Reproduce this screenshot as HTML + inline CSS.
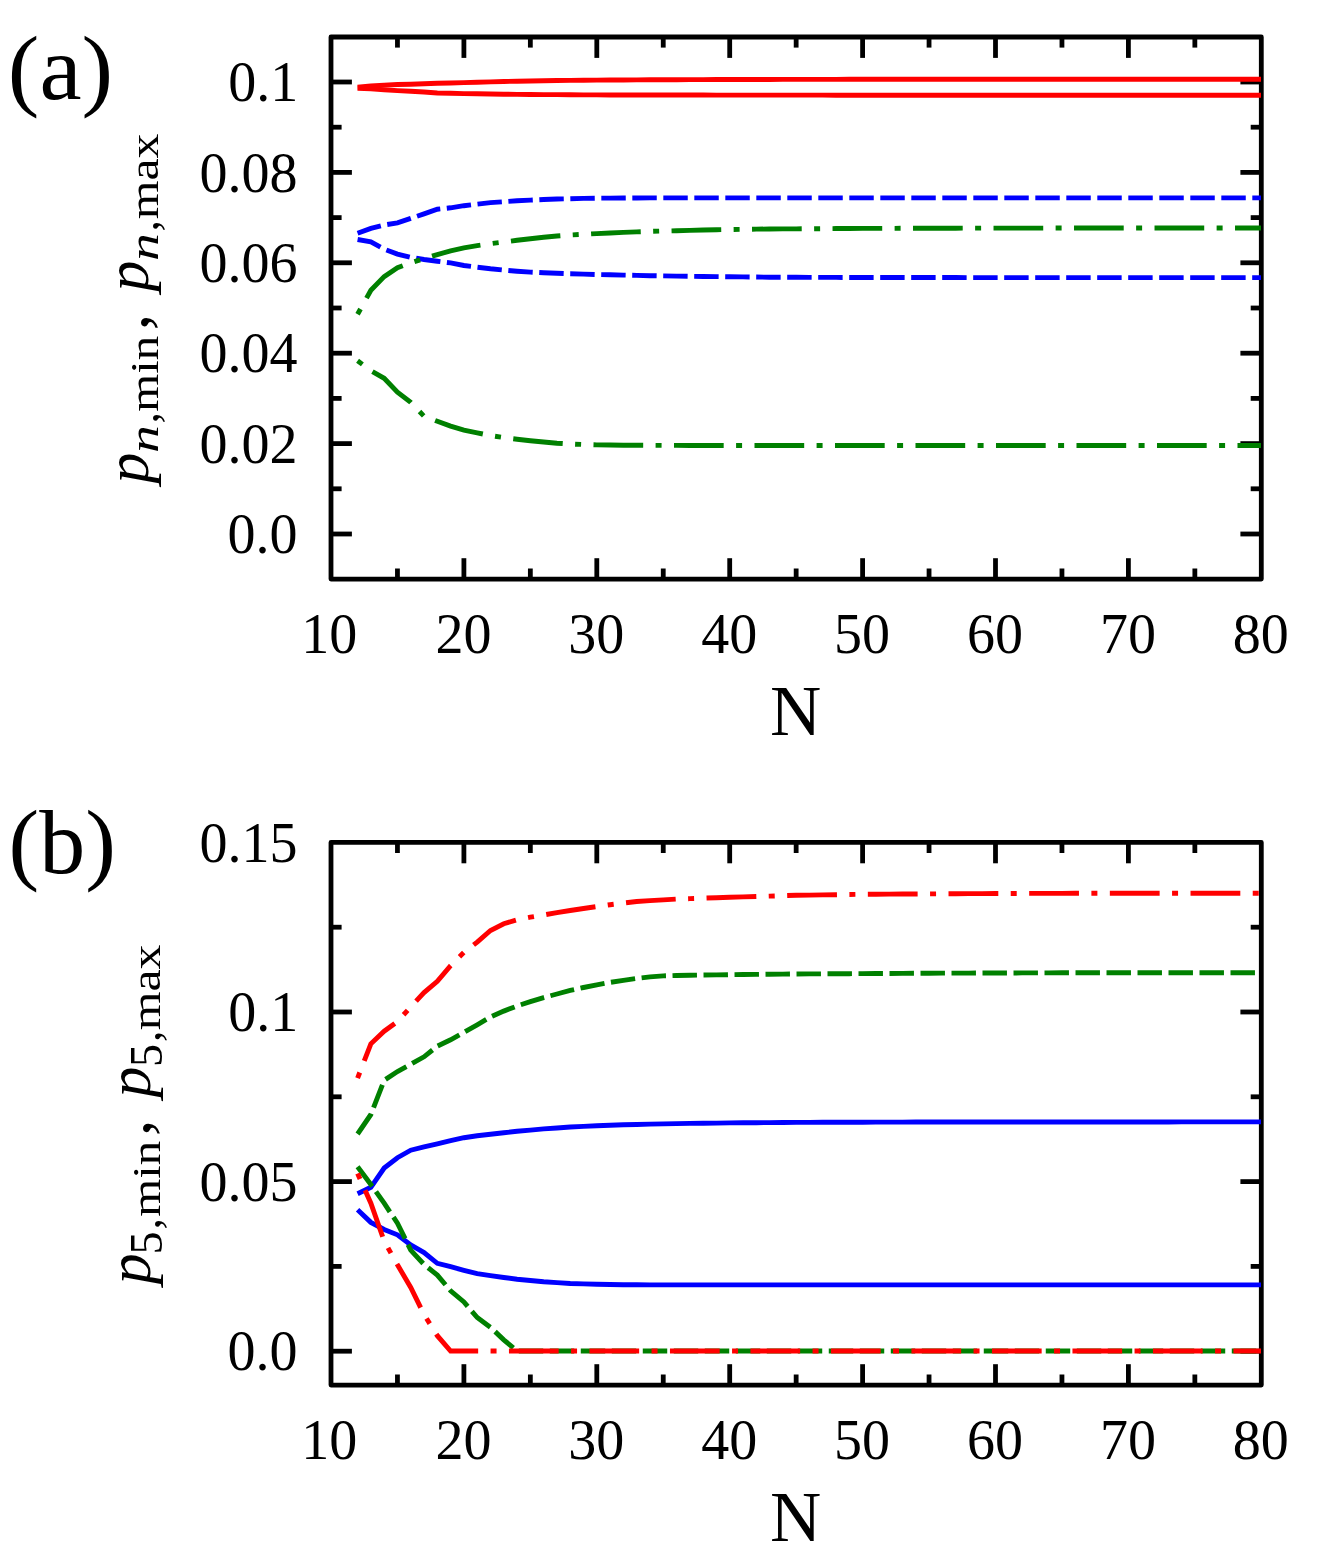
<!DOCTYPE html>
<html><head><meta charset="utf-8"><title>figure</title>
<style>
html,body{margin:0;padding:0;background:#fff;}
body{width:1329px;height:1561px;overflow:hidden;font-family:"Liberation Serif",serif;}
svg{display:block;will-change:transform;}
</style></head><body>
<svg width="1329" height="1561" viewBox="0 0 1329 1561">
<rect width="1329" height="1561" fill="#fff"/>
<g stroke="#000" stroke-width="4.8" fill="none">
<line x1="397.45" y1="37.00" x2="397.45" y2="47.60"/>
<line x1="397.45" y1="579.10" x2="397.45" y2="568.50"/>
<line x1="463.90" y1="37.00" x2="463.90" y2="57.90"/>
<line x1="463.90" y1="579.10" x2="463.90" y2="558.20"/>
<line x1="530.35" y1="37.00" x2="530.35" y2="47.60"/>
<line x1="530.35" y1="579.10" x2="530.35" y2="568.50"/>
<line x1="596.80" y1="37.00" x2="596.80" y2="57.90"/>
<line x1="596.80" y1="579.10" x2="596.80" y2="558.20"/>
<line x1="663.25" y1="37.00" x2="663.25" y2="47.60"/>
<line x1="663.25" y1="579.10" x2="663.25" y2="568.50"/>
<line x1="729.70" y1="37.00" x2="729.70" y2="57.90"/>
<line x1="729.70" y1="579.10" x2="729.70" y2="558.20"/>
<line x1="796.15" y1="37.00" x2="796.15" y2="47.60"/>
<line x1="796.15" y1="579.10" x2="796.15" y2="568.50"/>
<line x1="862.60" y1="37.00" x2="862.60" y2="57.90"/>
<line x1="862.60" y1="579.10" x2="862.60" y2="558.20"/>
<line x1="929.05" y1="37.00" x2="929.05" y2="47.60"/>
<line x1="929.05" y1="579.10" x2="929.05" y2="568.50"/>
<line x1="995.50" y1="37.00" x2="995.50" y2="57.90"/>
<line x1="995.50" y1="579.10" x2="995.50" y2="558.20"/>
<line x1="1061.95" y1="37.00" x2="1061.95" y2="47.60"/>
<line x1="1061.95" y1="579.10" x2="1061.95" y2="568.50"/>
<line x1="1128.40" y1="37.00" x2="1128.40" y2="57.90"/>
<line x1="1128.40" y1="579.10" x2="1128.40" y2="558.20"/>
<line x1="1194.85" y1="37.00" x2="1194.85" y2="47.60"/>
<line x1="1194.85" y1="579.10" x2="1194.85" y2="568.50"/>
<line x1="331.00" y1="534.00" x2="351.90" y2="534.00"/>
<line x1="1261.30" y1="534.00" x2="1240.40" y2="534.00"/>
<line x1="331.00" y1="443.60" x2="351.90" y2="443.60"/>
<line x1="1261.30" y1="443.60" x2="1240.40" y2="443.60"/>
<line x1="331.00" y1="353.20" x2="351.90" y2="353.20"/>
<line x1="1261.30" y1="353.20" x2="1240.40" y2="353.20"/>
<line x1="331.00" y1="262.80" x2="351.90" y2="262.80"/>
<line x1="1261.30" y1="262.80" x2="1240.40" y2="262.80"/>
<line x1="331.00" y1="172.40" x2="351.90" y2="172.40"/>
<line x1="1261.30" y1="172.40" x2="1240.40" y2="172.40"/>
<line x1="331.00" y1="82.00" x2="351.90" y2="82.00"/>
<line x1="1261.30" y1="82.00" x2="1240.40" y2="82.00"/>
<line x1="331.00" y1="488.80" x2="341.60" y2="488.80"/>
<line x1="1261.30" y1="488.80" x2="1250.70" y2="488.80"/>
<line x1="331.00" y1="398.40" x2="341.60" y2="398.40"/>
<line x1="1261.30" y1="398.40" x2="1250.70" y2="398.40"/>
<line x1="331.00" y1="308.00" x2="341.60" y2="308.00"/>
<line x1="1261.30" y1="308.00" x2="1250.70" y2="308.00"/>
<line x1="331.00" y1="217.60" x2="341.60" y2="217.60"/>
<line x1="1261.30" y1="217.60" x2="1250.70" y2="217.60"/>
<line x1="331.00" y1="127.20" x2="341.60" y2="127.20"/>
<line x1="1261.30" y1="127.20" x2="1250.70" y2="127.20"/>
<rect x="331.00" y="37.00" width="930.30" height="542.10" fill="none" stroke-linejoin="round"/>
<line x1="397.45" y1="842.40" x2="397.45" y2="853.00"/>
<line x1="397.45" y1="1385.10" x2="397.45" y2="1374.50"/>
<line x1="463.90" y1="842.40" x2="463.90" y2="863.30"/>
<line x1="463.90" y1="1385.10" x2="463.90" y2="1364.20"/>
<line x1="530.35" y1="842.40" x2="530.35" y2="853.00"/>
<line x1="530.35" y1="1385.10" x2="530.35" y2="1374.50"/>
<line x1="596.80" y1="842.40" x2="596.80" y2="863.30"/>
<line x1="596.80" y1="1385.10" x2="596.80" y2="1364.20"/>
<line x1="663.25" y1="842.40" x2="663.25" y2="853.00"/>
<line x1="663.25" y1="1385.10" x2="663.25" y2="1374.50"/>
<line x1="729.70" y1="842.40" x2="729.70" y2="863.30"/>
<line x1="729.70" y1="1385.10" x2="729.70" y2="1364.20"/>
<line x1="796.15" y1="842.40" x2="796.15" y2="853.00"/>
<line x1="796.15" y1="1385.10" x2="796.15" y2="1374.50"/>
<line x1="862.60" y1="842.40" x2="862.60" y2="863.30"/>
<line x1="862.60" y1="1385.10" x2="862.60" y2="1364.20"/>
<line x1="929.05" y1="842.40" x2="929.05" y2="853.00"/>
<line x1="929.05" y1="1385.10" x2="929.05" y2="1374.50"/>
<line x1="995.50" y1="842.40" x2="995.50" y2="863.30"/>
<line x1="995.50" y1="1385.10" x2="995.50" y2="1364.20"/>
<line x1="1061.95" y1="842.40" x2="1061.95" y2="853.00"/>
<line x1="1061.95" y1="1385.10" x2="1061.95" y2="1374.50"/>
<line x1="1128.40" y1="842.40" x2="1128.40" y2="863.30"/>
<line x1="1128.40" y1="1385.10" x2="1128.40" y2="1364.20"/>
<line x1="1194.85" y1="842.40" x2="1194.85" y2="853.00"/>
<line x1="1194.85" y1="1385.10" x2="1194.85" y2="1374.50"/>
<line x1="331.00" y1="1351.20" x2="351.90" y2="1351.20"/>
<line x1="1261.30" y1="1351.20" x2="1240.40" y2="1351.20"/>
<line x1="331.00" y1="1181.60" x2="351.90" y2="1181.60"/>
<line x1="1261.30" y1="1181.60" x2="1240.40" y2="1181.60"/>
<line x1="331.00" y1="1012.00" x2="351.90" y2="1012.00"/>
<line x1="1261.30" y1="1012.00" x2="1240.40" y2="1012.00"/>
<line x1="331.00" y1="1266.40" x2="341.60" y2="1266.40"/>
<line x1="1261.30" y1="1266.40" x2="1250.70" y2="1266.40"/>
<line x1="331.00" y1="1096.80" x2="341.60" y2="1096.80"/>
<line x1="1261.30" y1="1096.80" x2="1250.70" y2="1096.80"/>
<line x1="331.00" y1="927.20" x2="341.60" y2="927.20"/>
<line x1="1261.30" y1="927.20" x2="1250.70" y2="927.20"/>
<rect x="331.00" y="842.40" width="930.30" height="542.70" fill="none" stroke-linejoin="round"/>
</g>
<g fill="none" stroke-width="4.90" stroke-linejoin="miter" stroke-linecap="butt">
<polyline points="357.58,87.30 370.87,86.00 384.16,85.10 397.45,84.50 410.74,84.20 424.03,83.80 437.32,83.30 450.61,82.95 463.90,82.60 477.19,82.23 490.48,81.87 503.77,81.50 517.06,81.23 530.35,80.97 543.64,80.70 556.93,80.55 570.22,80.40 583.51,80.25 596.80,80.10 610.09,80.02 623.38,79.95 636.67,79.88 649.96,79.80 663.25,79.75 676.54,79.70 689.83,79.65 703.12,79.60 716.41,79.55 729.70,79.50 742.99,79.48 756.28,79.46 769.57,79.44 782.86,79.42 796.15,79.40 809.44,79.38 822.73,79.36 836.02,79.34 849.31,79.32 862.60,79.30 875.89,79.30 889.18,79.29 902.47,79.29 915.76,79.29 929.05,79.28 942.34,79.28 955.63,79.28 968.92,79.27 982.21,79.27 995.50,79.27 1008.79,79.26 1022.08,79.26 1035.37,79.26 1048.66,79.25 1061.95,79.25 1075.24,79.25 1088.53,79.24 1101.82,79.24 1115.11,79.24 1128.40,79.23 1141.69,79.23 1154.98,79.23 1168.27,79.22 1181.56,79.22 1194.85,79.22 1208.14,79.21 1221.43,79.21 1234.72,79.21 1248.01,79.20 1261.00,79.20" stroke="#ff0000"/>
<polyline points="357.58,88.20 370.87,88.90 384.16,89.80 397.45,90.60 410.74,91.30 424.03,92.00 437.32,93.00 450.61,93.30 463.90,93.60 477.19,93.80 490.48,94.00 503.77,94.20 517.06,94.33 530.35,94.47 543.64,94.60 556.93,94.67 570.22,94.75 583.51,94.83 596.80,94.90 610.09,94.93 623.38,94.95 636.67,94.97 649.96,95.00 663.25,95.02 676.54,95.03 689.83,95.05 703.12,95.07 716.41,95.08 729.70,95.10 742.99,95.11 756.28,95.12 769.57,95.13 782.86,95.14 796.15,95.15 809.44,95.16 822.73,95.17 836.02,95.18 849.31,95.19 862.60,95.20 875.89,95.20 889.18,95.20 902.47,95.20 915.76,95.20 929.05,95.20 942.34,95.20 955.63,95.20 968.92,95.20 982.21,95.20 995.50,95.20 1008.79,95.20 1022.08,95.20 1035.37,95.20 1048.66,95.20 1061.95,95.20 1075.24,95.20 1088.53,95.20 1101.82,95.20 1115.11,95.20 1128.40,95.20 1141.69,95.20 1154.98,95.20 1168.27,95.20 1181.56,95.20 1194.85,95.20 1208.14,95.20 1221.43,95.20 1234.72,95.20 1248.01,95.20 1261.00,95.20" stroke="#ff0000"/>
<polyline points="357.58,233.30 370.87,228.40 384.16,225.00 397.45,222.80 410.74,218.40 424.03,213.90 437.32,209.20 450.61,207.80 463.90,205.70 477.19,204.10 490.48,202.60 503.77,201.70 517.06,200.80 530.35,200.10 543.64,199.50 556.93,199.00 570.22,198.70 583.51,198.40 596.80,198.20 610.09,198.12 623.38,198.05 636.67,197.97 649.96,197.90 663.25,197.90 676.54,197.90 689.83,197.90 703.12,197.90 716.41,197.90 729.70,197.90 742.99,197.90 756.28,197.90 769.57,197.90 782.86,197.90 796.15,197.90 809.44,197.90 822.73,197.90 836.02,197.90 849.31,197.90 862.60,197.90 875.89,197.90 889.18,197.90 902.47,197.90 915.76,197.90 929.05,197.90 942.34,197.90 955.63,197.90 968.92,197.90 982.21,197.90 995.50,197.90 1008.79,197.90 1022.08,197.90 1035.37,197.90 1048.66,197.90 1061.95,197.90 1075.24,197.90 1088.53,197.90 1101.82,197.90 1115.11,197.90 1128.40,197.90 1141.69,197.90 1154.98,197.90 1168.27,197.90 1181.56,197.90 1194.85,197.90 1208.14,197.90 1221.43,197.90 1234.72,197.90 1248.01,197.90 1261.00,197.90" stroke="#0000ff" stroke-dasharray="24.45 6.55"/>
<polyline points="357.58,239.50 370.87,241.90 384.16,249.10 397.45,254.10 410.74,257.30 424.03,259.50 437.32,261.30 450.61,262.90 463.90,265.50 477.19,267.20 490.48,268.80 503.77,270.10 517.06,271.20 530.35,272.10 543.64,272.80 556.93,273.30 570.22,273.80 583.51,274.15 596.80,274.50 610.09,274.80 623.38,275.10 636.67,275.40 649.96,275.70 663.25,275.90 676.54,276.10 689.83,276.30 703.12,276.50 716.41,276.64 729.70,276.78 742.99,276.92 756.28,277.06 769.57,277.20 782.86,277.24 796.15,277.29 809.44,277.33 822.73,277.37 836.02,277.41 849.31,277.46 862.60,277.50 875.89,277.51 889.18,277.52 902.47,277.53 915.76,277.54 929.05,277.55 942.34,277.56 955.63,277.57 968.92,277.58 982.21,277.59 995.50,277.60 1008.79,277.60 1022.08,277.60 1035.37,277.60 1048.66,277.60 1061.95,277.60 1075.24,277.60 1088.53,277.60 1101.82,277.60 1115.11,277.60 1128.40,277.60 1141.69,277.60 1154.98,277.60 1168.27,277.60 1181.56,277.60 1194.85,277.60 1208.14,277.60 1221.43,277.60 1234.72,277.60 1248.01,277.60 1261.00,277.60" stroke="#0000ff" stroke-dasharray="24.45 6.55"/>
<polyline points="357.58,314.20 370.87,290.30 384.16,276.60 397.45,267.70 410.74,262.70 424.03,258.60 437.32,254.60 450.61,250.80 463.90,247.80 477.19,245.60 490.48,243.70 503.77,242.00 517.06,240.30 530.35,238.70 543.64,237.20 556.93,236.00 570.22,235.00 583.51,234.30 596.80,233.60 610.09,233.00 623.38,232.40 636.67,231.90 649.96,231.40 663.25,231.05 676.54,230.70 689.83,230.35 703.12,230.00 716.41,229.75 729.70,229.50 742.99,229.33 756.28,229.17 769.57,229.00 782.86,228.91 796.15,228.83 809.44,228.74 822.73,228.66 836.02,228.57 849.31,228.49 862.60,228.40 875.89,228.37 889.18,228.34 902.47,228.31 915.76,228.28 929.05,228.25 942.34,228.22 955.63,228.19 968.92,228.16 982.21,228.13 995.50,228.10 1008.79,228.09 1022.08,228.09 1035.37,228.09 1048.66,228.08 1061.95,228.07 1075.24,228.07 1088.53,228.06 1101.82,228.06 1115.11,228.06 1128.40,228.05 1141.69,228.04 1154.98,228.04 1168.27,228.03 1181.56,228.03 1194.85,228.03 1208.14,228.02 1221.43,228.01 1234.72,228.01 1248.01,228.00 1261.00,228.00" stroke="#008000" stroke-dasharray="6 12.4 49.7 12.4"/>
<polyline points="357.58,360.80 370.87,370.70 384.16,378.30 397.45,392.10 410.74,402.40 424.03,416.20 437.32,421.30 450.61,426.10 463.90,430.10 477.19,432.80 490.48,435.60 503.77,437.60 517.06,439.20 530.35,440.70 543.64,442.00 556.93,443.20 570.22,444.00 583.51,444.50 596.80,444.90 610.09,445.05 623.38,445.20 636.67,445.27 649.96,445.33 663.25,445.40 676.54,445.42 689.83,445.44 703.12,445.46 716.41,445.48 729.70,445.50 742.99,445.50 756.28,445.50 769.57,445.50 782.86,445.50 796.15,445.50 809.44,445.50 822.73,445.50 836.02,445.50 849.31,445.50 862.60,445.50 875.89,445.50 889.18,445.50 902.47,445.50 915.76,445.50 929.05,445.50 942.34,445.50 955.63,445.50 968.92,445.50 982.21,445.50 995.50,445.50 1008.79,445.50 1022.08,445.50 1035.37,445.50 1048.66,445.50 1061.95,445.50 1075.24,445.50 1088.53,445.50 1101.82,445.50 1115.11,445.50 1128.40,445.50 1141.69,445.50 1154.98,445.50 1168.27,445.50 1181.56,445.50 1194.85,445.50 1208.14,445.50 1221.43,445.50 1234.72,445.50 1248.01,445.50 1261.00,445.50" stroke="#008000" stroke-dasharray="6 12.4 49.7 12.4"/>
<polyline points="357.58,1193.70 370.87,1187.30 384.16,1168.00 397.45,1157.70 410.74,1150.20 424.03,1146.90 437.32,1143.90 450.61,1140.70 463.90,1137.70 477.19,1135.80 490.48,1134.30 503.77,1132.80 517.06,1131.30 530.35,1130.10 543.64,1128.90 556.93,1127.95 570.22,1127.00 583.51,1126.40 596.80,1125.80 610.09,1125.30 623.38,1124.80 636.67,1124.45 649.96,1124.10 663.25,1123.85 676.54,1123.60 689.83,1123.42 703.12,1123.25 716.41,1123.08 729.70,1122.90 742.99,1122.80 756.28,1122.70 769.57,1122.60 782.86,1122.50 796.15,1122.40 809.44,1122.36 822.73,1122.32 836.02,1122.28 849.31,1122.24 862.60,1122.20 875.89,1122.16 889.18,1122.12 902.47,1122.08 915.76,1122.04 929.05,1122.00 942.34,1122.00 955.63,1121.99 968.92,1121.99 982.21,1121.98 995.50,1121.98 1008.79,1121.98 1022.08,1121.97 1035.37,1121.97 1048.66,1121.96 1061.95,1121.96 1075.24,1121.96 1088.53,1121.95 1101.82,1121.95 1115.11,1121.94 1128.40,1121.94 1141.69,1121.94 1154.98,1121.93 1168.27,1121.93 1181.56,1121.92 1194.85,1121.92 1208.14,1121.92 1221.43,1121.91 1234.72,1121.91 1248.01,1121.90 1261.00,1121.90" stroke="#0000ff"/>
<polyline points="357.58,1209.80 370.87,1222.40 384.16,1229.50 397.45,1234.80 410.74,1245.00 424.03,1252.50 437.32,1263.30 450.61,1266.70 463.90,1270.30 477.19,1273.60 490.48,1275.60 503.77,1277.50 517.06,1279.30 530.35,1280.55 543.64,1281.80 556.93,1282.65 570.22,1283.50 583.51,1283.85 596.80,1284.20 610.09,1284.45 623.38,1284.70 636.67,1284.80 649.96,1284.90 663.25,1284.90 676.54,1284.90 689.83,1284.90 703.12,1284.90 716.41,1284.90 729.70,1284.90 742.99,1284.90 756.28,1284.90 769.57,1284.90 782.86,1284.90 796.15,1284.90 809.44,1284.90 822.73,1284.90 836.02,1284.90 849.31,1284.90 862.60,1284.90 875.89,1284.90 889.18,1284.90 902.47,1284.90 915.76,1284.90 929.05,1284.90 942.34,1284.90 955.63,1284.90 968.92,1284.90 982.21,1284.90 995.50,1284.90 1008.79,1284.90 1022.08,1284.90 1035.37,1284.90 1048.66,1284.90 1061.95,1284.90 1075.24,1284.90 1088.53,1284.90 1101.82,1284.90 1115.11,1284.90 1128.40,1284.90 1141.69,1284.90 1154.98,1284.90 1168.27,1284.90 1181.56,1284.90 1194.85,1284.90 1208.14,1284.90 1221.43,1284.90 1234.72,1284.90 1248.01,1284.90 1261.00,1284.90" stroke="#0000ff"/>
<polyline points="357.58,1134.00 370.87,1114.50 384.16,1080.30 397.45,1071.50 410.74,1064.30 424.03,1056.80 437.32,1046.20 450.61,1039.80 463.90,1032.40 477.19,1024.80 490.48,1017.00 503.77,1011.10 517.06,1006.00 530.35,1001.70 543.64,997.60 556.93,994.00 570.22,990.40 583.51,987.50 596.80,984.90 610.09,982.40 623.38,980.30 636.67,978.40 649.96,976.90 663.25,975.90 676.54,975.50 689.83,975.25 703.12,975.00 716.41,974.85 729.70,974.70 742.99,974.56 756.28,974.42 769.57,974.28 782.86,974.14 796.15,974.00 809.44,973.92 822.73,973.84 836.02,973.76 849.31,973.68 862.60,973.60 875.89,973.52 889.18,973.44 902.47,973.36 915.76,973.28 929.05,973.20 942.34,973.16 955.63,973.12 968.92,973.08 982.21,973.04 995.50,973.00 1008.79,972.96 1022.08,972.92 1035.37,972.88 1048.66,972.84 1061.95,972.80 1075.24,972.80 1088.53,972.80 1101.82,972.80 1115.11,972.80 1128.40,972.80 1141.69,972.80 1154.98,972.80 1168.27,972.80 1181.56,972.80 1194.85,972.80 1208.14,972.80 1221.43,972.80 1234.72,972.80 1248.01,972.80 1261.00,972.80" stroke="#008000" stroke-dasharray="24.45 6.55"/>
<polyline points="357.58,1166.70 370.87,1184.50 384.16,1203.20 397.45,1223.20 410.74,1250.10 424.03,1264.50 437.32,1275.10 450.61,1290.80 463.90,1301.90 477.19,1317.50 490.48,1327.30 503.77,1339.80 517.06,1351.00 530.35,1351.00 543.64,1351.00 556.93,1351.00 570.22,1351.00 583.51,1351.00 596.80,1351.00 610.09,1351.00 623.38,1351.00 636.67,1351.00 649.96,1351.00 663.25,1351.00 676.54,1351.00 689.83,1351.00 703.12,1351.00 716.41,1351.00 729.70,1351.00 742.99,1351.00 756.28,1351.00 769.57,1351.00 782.86,1351.00 796.15,1351.00 809.44,1351.00 822.73,1351.00 836.02,1351.00 849.31,1351.00 862.60,1351.00 875.89,1351.00 889.18,1351.00 902.47,1351.00 915.76,1351.00 929.05,1351.00 942.34,1351.00 955.63,1351.00 968.92,1351.00 982.21,1351.00 995.50,1351.00 1008.79,1351.00 1022.08,1351.00 1035.37,1351.00 1048.66,1351.00 1061.95,1351.00 1075.24,1351.00 1088.53,1351.00 1101.82,1351.00 1115.11,1351.00 1128.40,1351.00 1141.69,1351.00 1154.98,1351.00 1168.27,1351.00 1181.56,1351.00 1194.85,1351.00 1208.14,1351.00 1221.43,1351.00 1234.72,1351.00 1248.01,1351.00 1261.00,1351.00" stroke="#008000" stroke-dasharray="24.45 6.55"/>
<polyline points="357.58,1078.10 370.87,1043.80 384.16,1031.20 397.45,1021.50 410.74,1006.90 424.03,992.60 437.32,981.30 450.61,965.60 463.90,952.40 477.19,942.10 490.48,930.50 503.77,923.70 517.06,919.80 530.35,917.20 543.64,915.00 556.93,912.60 570.22,910.50 583.51,908.50 596.80,906.60 610.09,904.70 623.38,903.00 636.67,901.50 649.96,900.60 663.25,899.90 676.54,899.10 689.83,898.65 703.12,898.20 716.41,897.70 729.70,897.20 742.99,896.85 756.28,896.50 769.57,896.10 782.86,895.70 796.15,895.30 809.44,895.10 822.73,894.90 836.02,894.70 849.31,894.50 862.60,894.30 875.89,894.22 889.18,894.14 902.47,894.06 915.76,893.98 929.05,893.90 942.34,893.82 955.63,893.74 968.92,893.66 982.21,893.58 995.50,893.50 1008.79,893.47 1022.08,893.44 1035.37,893.41 1048.66,893.38 1061.95,893.35 1075.24,893.32 1088.53,893.29 1101.82,893.26 1115.11,893.23 1128.40,893.20 1141.69,893.20 1154.98,893.20 1168.27,893.20 1181.56,893.20 1194.85,893.20 1208.14,893.20 1221.43,893.20 1234.72,893.20 1248.01,893.20 1261.00,893.20" stroke="#ff0000" stroke-dasharray="6 12.45 49.8 12.42"/>
<polyline points="357.58,1173.50 370.87,1203.20 384.16,1241.00 397.45,1264.80 410.74,1287.40 424.03,1314.50 437.32,1335.70 450.61,1351.00 463.90,1351.00 477.19,1351.00 490.48,1351.00 503.77,1351.00 517.06,1351.00 530.35,1351.00 543.64,1351.00 556.93,1351.00 570.22,1351.00 583.51,1351.00 596.80,1351.00 610.09,1351.00 623.38,1351.00 636.67,1351.00 649.96,1351.00 663.25,1351.00 676.54,1351.00 689.83,1351.00 703.12,1351.00 716.41,1351.00 729.70,1351.00 742.99,1351.00 756.28,1351.00 769.57,1351.00 782.86,1351.00 796.15,1351.00 809.44,1351.00 822.73,1351.00 836.02,1351.00 849.31,1351.00 862.60,1351.00 875.89,1351.00 889.18,1351.00 902.47,1351.00 915.76,1351.00 929.05,1351.00 942.34,1351.00 955.63,1351.00 968.92,1351.00 982.21,1351.00 995.50,1351.00 1008.79,1351.00 1022.08,1351.00 1035.37,1351.00 1048.66,1351.00 1061.95,1351.00 1075.24,1351.00 1088.53,1351.00 1101.82,1351.00 1115.11,1351.00 1128.40,1351.00 1141.69,1351.00 1154.98,1351.00 1168.27,1351.00 1181.56,1351.00 1194.85,1351.00 1208.14,1351.00 1221.43,1351.00 1234.72,1351.00 1248.01,1351.00 1261.00,1351.00" stroke="#ff0000" stroke-dasharray="6 12.4 49.7 12.4"/>
</g>
<g font-family="'Liberation Serif', serif" fill="#000" font-size="56">
<text x="297.5" y="553.1" text-anchor="end">0.0</text>
<text x="297.5" y="462.7" text-anchor="end">0.02</text>
<text x="297.5" y="372.3" text-anchor="end">0.04</text>
<text x="297.5" y="281.9" text-anchor="end">0.06</text>
<text x="297.5" y="191.5" text-anchor="end">0.08</text>
<text x="298.2" y="101.1" text-anchor="end">0.1</text>
<text x="297.5" y="1370.3" text-anchor="end">0.0</text>
<text x="297.5" y="1200.7" text-anchor="end">0.05</text>
<text x="298.2" y="1031.1" text-anchor="end">0.1</text>
<text x="297.5" y="861.5" text-anchor="end">0.15</text>
<text x="329.2" y="652.8" text-anchor="middle">10</text>
<text x="463.4" y="652.8" text-anchor="middle">20</text>
<text x="596.3" y="652.8" text-anchor="middle">30</text>
<text x="729.2" y="652.8" text-anchor="middle">40</text>
<text x="862.1" y="652.8" text-anchor="middle">50</text>
<text x="995.0" y="652.8" text-anchor="middle">60</text>
<text x="1127.9" y="652.8" text-anchor="middle">70</text>
<text x="1260.8" y="652.8" text-anchor="middle">80</text>
<text x="329.2" y="1458.8" text-anchor="middle">10</text>
<text x="463.4" y="1458.8" text-anchor="middle">20</text>
<text x="596.3" y="1458.8" text-anchor="middle">30</text>
<text x="729.2" y="1458.8" text-anchor="middle">40</text>
<text x="862.1" y="1458.8" text-anchor="middle">50</text>
<text x="995.0" y="1458.8" text-anchor="middle">60</text>
<text x="1127.9" y="1458.8" text-anchor="middle">70</text>
<text x="1260.8" y="1458.8" text-anchor="middle">80</text>
<text x="795.7" y="734.5" text-anchor="middle" font-size="71">N</text>
<text x="795.7" y="1540.5" text-anchor="middle" font-size="71">N</text>
<text x="7.85" y="99.2" font-size="92" textLength="105.2" lengthAdjust="spacingAndGlyphs">(a)</text>
<text x="8.5" y="873.3" font-size="92">(b)</text>
<text transform="translate(147.90,483.40) rotate(-90)" font-size="62.0" font-style="italic">p</text>
<text transform="translate(158.30,453.10) rotate(-90)" font-size="41.4" font-style="italic" textLength="27.90" lengthAdjust="spacingAndGlyphs">n</text>
<text transform="translate(158.20,423.60) rotate(-90)" font-size="46.0">,</text>
<text transform="translate(158.20,411.80) rotate(-90)" font-size="41.0" textLength="75.90" lengthAdjust="spacingAndGlyphs">min</text>
<text transform="translate(147.90,330.30) rotate(-90)" font-size="66.0">,</text>
<text transform="translate(147.90,291.40) rotate(-90)" font-size="62.0" font-style="italic">p</text>
<text transform="translate(158.30,260.90) rotate(-90)" font-size="41.4" font-style="italic" textLength="27.90" lengthAdjust="spacingAndGlyphs">n</text>
<text transform="translate(158.20,231.40) rotate(-90)" font-size="46.0">,</text>
<text transform="translate(158.20,219.35) rotate(-90)" font-size="41.0" textLength="85.76" lengthAdjust="spacingAndGlyphs">max</text>
<text transform="translate(149.90,1284.30) rotate(-90)" font-size="62.0" font-style="italic">p</text>
<text transform="translate(161.50,1254.40) rotate(-90)" font-size="46.0">5</text>
<text transform="translate(160.00,1229.60) rotate(-90)" font-size="46.0">,</text>
<text transform="translate(160.00,1216.80) rotate(-90)" font-size="41.0" textLength="75.90" lengthAdjust="spacingAndGlyphs">min</text>
<text transform="translate(149.90,1135.90) rotate(-90)" font-size="66.0">,</text>
<text transform="translate(149.90,1097.60) rotate(-90)" font-size="62.0" font-style="italic">p</text>
<text transform="translate(161.50,1066.90) rotate(-90)" font-size="46.0">5</text>
<text transform="translate(160.00,1042.00) rotate(-90)" font-size="46.0">,</text>
<text transform="translate(160.00,1030.25) rotate(-90)" font-size="41.0" textLength="85.76" lengthAdjust="spacingAndGlyphs">max</text>
</g>
</svg>
</body></html>
